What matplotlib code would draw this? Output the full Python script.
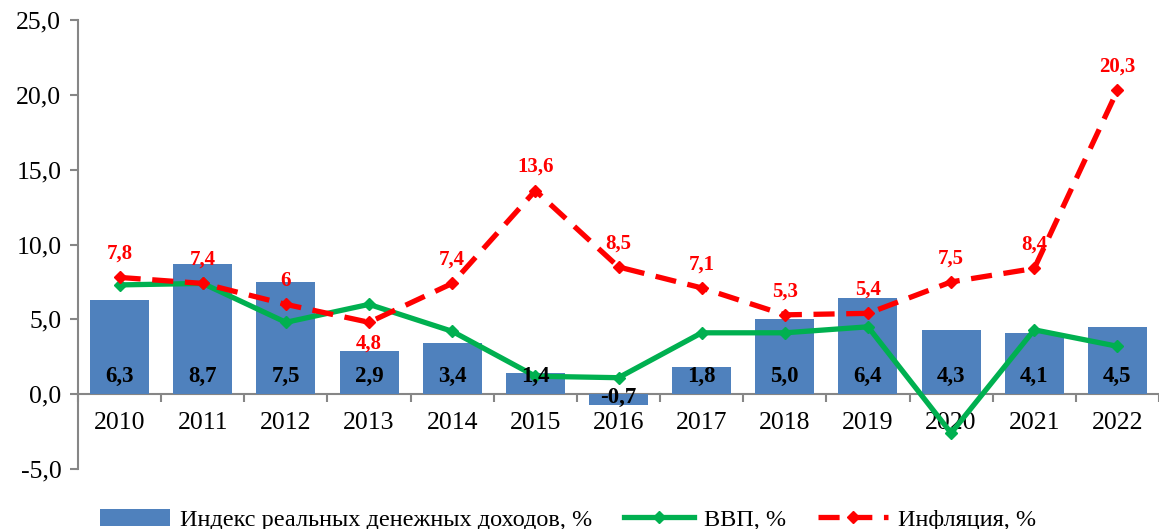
import numpy as np
import matplotlib
matplotlib.use('Agg')
import matplotlib.pyplot as plt

plt.rcParams['font.family'] = ['Liberation Serif', 'DejaVu Serif']

years = ['2010', '2011', '2012', '2013', '2014', '2015', '2016',
         '2017', '2018', '2019', '2020', '2021', '2022']
dohody = [6.3, 8.7, 7.5, 2.9, 3.4, 1.4, -0.7, 1.8, 5.0, 6.4, 4.3, 4.1, 4.5]
vvp = [7.3, 7.4, 4.8, 6.0, 4.2, 1.2, 1.1, 4.1, 4.1, 4.5, -2.6, 4.3, 3.2]
inflyaciya = [7.8, 7.4, 6.0, 4.8, 7.4, 13.6, 8.5, 7.1, 5.3, 5.4, 7.5, 8.4, 20.3]
infl_labels = ['7,8', '7,4', '6', '4,8', '7,4', '13,6', '8,5', '7,1', '5,3',
               '5,4', '7,5', '8,4', '20,3']

c_bar = '#4F81BD'
c_vvp = '#00B050'
c_inf = '#FF0000'
c_axis = '#868686'

fig = plt.figure(figsize=(11.59, 5.29), dpi=100)
ax = fig.add_axes([78 / 1159, 60 / 529, 1 - 78 / 1159, 449 / 529])

x = np.arange(len(years))
bars = ax.bar(x, dohody, width=0.71, color=c_bar, zorder=2)
l_vvp, = ax.plot(x, vvp, color=c_vvp, lw=3.8, marker='D', ms=6, zorder=3)
l_inf, = ax.plot(x, inflyaciya, color=c_inf, lw=3.8, ls=(0, (4, 2.2)),
                 marker='D', ms=6, zorder=4)

# bar labels at the base
for i, v in enumerate(dohody):
    s = ('%.1f' % v).replace('.', ',')
    ax.text(i, 1.2 if v > 0 else -0.25, s, ha='center', va='center',
            fontsize=16.5, fontweight='bold', color='black', zorder=5)

# inflation labels
for i, (v, s) in enumerate(zip(inflyaciya, infl_labels)):
    off = -15 if i == 3 else 17
    ax.annotate(s, (i, v), xytext=(0, off), textcoords='offset points',
                ha='center', va='center', fontsize=15, fontweight='bold',
                color=c_inf, zorder=5)

ax.set_xlim(-0.5, len(years) - 0.5)
ax.set_ylim(-5, 25)
yt = np.arange(-5, 26, 5)
ax.set_yticks(yt)
ax.set_yticklabels([('%.1f' % t).replace('.', ',') for t in yt])

ax.set_xticks(np.arange(-0.5, len(years), 1), minor=True)
ax.set_xticks(x)
ax.set_xticklabels(years)
ax.tick_params(axis='both', which='major', labelsize=18.5)
ax.tick_params(axis='x', which='major', length=0, pad=13)
ax.tick_params(axis='x', which='minor', length=6, width=1.5, color=c_axis,
               direction='out')
ax.tick_params(axis='y', length=6, width=1.5, color=c_axis, pad=6)

for side in ['top', 'right']:
    ax.spines[side].set_visible(False)
ax.spines['bottom'].set_position(('data', 0))
ax.spines['bottom'].set_color(c_axis)
ax.spines['left'].set_color(c_axis)
ax.spines['bottom'].set_linewidth(1.5)
ax.spines['left'].set_linewidth(1.5)
ax.spines['bottom'].set_zorder(1)

fig.legend([bars, l_vvp, l_inf],
           ['Индекс реальных денежных доходов, %', 'ВВП, %', 'Инфляция, %'],
           loc='lower center', bbox_to_anchor=(0.49, -0.045), ncol=3,
           frameon=False, fontsize=17.5, handlelength=2.9, handletextpad=0.4,
           columnspacing=1.3)

fig.savefig('out.png', dpi=100)
